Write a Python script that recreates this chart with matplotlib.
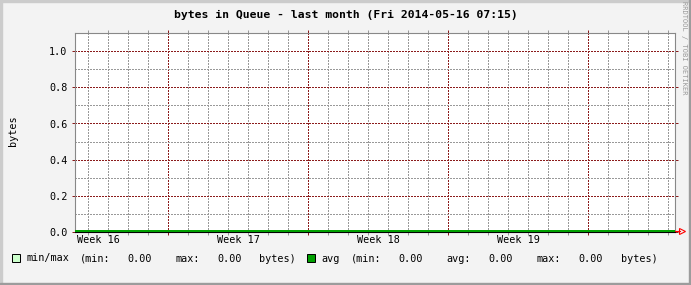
import datetime
import matplotlib
matplotlib.use("Agg")
import matplotlib.pyplot as plt
import matplotlib.dates as mdates
from matplotlib.transforms import offset_copy, blended_transform_factory
from matplotlib.patches import Rectangle
from matplotlib.lines import Line2D

# --- data ---
title = "bytes in Queue - last month (Fri 2014-05-16 07:15)"
ylabel = "bytes"
start = datetime.datetime(2014, 4, 16, 7, 15)
end = datetime.datetime(2014, 5, 16, 7, 15)
week_numbers = [16, 17, 18, 19]
yticks = [0.0, 0.2, 0.4, 0.6, 0.8, 1.0]
ytick_labels = ["0.0", "0.2", "0.4", "0.6", "0.8", "1.0"]
yminor = [0.1, 0.3, 0.5, 0.7, 0.9]
min_bytes = [0.0, 0.0, 0.0, 0.0, 0.0, 0.0, 0.0, 0.0, 0.0, 0.0, 0.0, 0.0, 0.0, 0.0, 0.0, 0.0,
             0.0, 0.0, 0.0, 0.0, 0.0, 0.0, 0.0, 0.0, 0.0, 0.0, 0.0, 0.0, 0.0, 0.0, 0.0]
max_bytes = [0.0, 0.0, 0.0, 0.0, 0.0, 0.0, 0.0, 0.0, 0.0, 0.0, 0.0, 0.0, 0.0, 0.0, 0.0, 0.0,
             0.0, 0.0, 0.0, 0.0, 0.0, 0.0, 0.0, 0.0, 0.0, 0.0, 0.0, 0.0, 0.0, 0.0, 0.0]
avg_bytes = [0.0, 0.0, 0.0, 0.0, 0.0, 0.0, 0.0, 0.0, 0.0, 0.0, 0.0, 0.0, 0.0, 0.0, 0.0, 0.0,
             0.0, 0.0, 0.0, 0.0, 0.0, 0.0, 0.0, 0.0, 0.0, 0.0, 0.0, 0.0, 0.0, 0.0, 0.0]
minmax_stats = {"min": 0.00, "max": 0.00}
avg_stats = {"min": 0.00, "avg": 0.00, "max": 0.00}

times = [start + datetime.timedelta(days=i) for i in range(len(avg_bytes))]

W, H = 691, 285
MONO = "DejaVu Sans Mono"
RED = "#8b1c1c"
GRAY = "#999999"


def fx(px):
    return px / W


def fy(py):
    return 1 - py / H


fig = plt.figure(figsize=(W / 100, H / 100), dpi=100, facecolor="#f3f3f3")

# frame border like rrdtool
fig.patches.append(Rectangle((0, 0), fx(2), 1, transform=fig.transFigure, color="#cccccc"))
fig.patches.append(Rectangle((0, fy(2)), 1, 2 / H, transform=fig.transFigure, color="#cccccc"))
fig.patches.append(Rectangle((fx(W - 2), 0), fx(2), 1, transform=fig.transFigure, color="#9c9c9c"))
fig.patches.append(Rectangle((0, 0), 1, 2 / H, transform=fig.transFigure, color="#9c9c9c"))

# 198 px tall for 1.1 units -> 18 px per 0.1, grid rows on pixel centres
ax = fig.add_axes([74.5 / W, 53.5 / H, 600 / W, 198 / H])
ax.set_facecolor("white")

ax.fill_between(times, min_bytes, max_bytes, color="#ccffcc", lw=0, zorder=2)
green_tr = offset_copy(ax.transData, fig=fig, y=1.0, units="dots")
ax.plot(times, avg_bytes, color="#00a000", lw=1.44, solid_capstyle="butt",
        transform=green_tr, clip_on=False, zorder=3)

ax.set_xlim(mdates.date2num(start), mdates.date2num(end))
ax.set_ylim(0, 1.1)

# day grid (gray) and week grid (red) at midnights
first_day = datetime.datetime(start.year, start.month, start.day) + datetime.timedelta(days=1)
midnights = []
d = first_day
while d < end:
    midnights.append(d)
    d += datetime.timedelta(days=1)
mondays = [m for m in midnights if m.weekday() == 0]
days = [m for m in midnights if m.weekday() != 0]
ax.set_xticks(mdates.date2num(mondays))
ax.set_xticks(mdates.date2num(days), minor=True)
ax.set_xticklabels([])
ax.set_yticks(yticks)
ax.set_yticklabels(ytick_labels, family=MONO, fontsize=7.3)
ax.set_yticks(yminor, minor=True)

# dotted grid
dots = (0, (2.0, 2.0))
ax.grid(which="major", color=RED, ls=dots, lw=0.5, antialiased=False, zorder=1)
ax.grid(which="minor", color=GRAY, ls=dots, lw=0.5, antialiased=False, zorder=1)
ax.set_axisbelow(True)

ax.tick_params(which="major", direction="out", length=2, width=0.72, color=RED,
               labelcolor="black", top=True, right=True, pad=3)
ax.tick_params(which="minor", direction="out", length=2, width=0.72, color=GRAY,
               top=True, right=True)
ax.tick_params(axis="y", which="minor", length=0)

for side in ["left", "top", "right"]:
    ax.spines[side].set_color("#888888")
    ax.spines[side].set_linewidth(0.8)
ax.spines["bottom"].set_color("black")
ax.spines["bottom"].set_linewidth(0.8)

# week labels centred in each week
week_tr = blended_transform_factory(ax.transData, fig.transFigure)
for n in week_numbers:
    mid = datetime.datetime.fromisocalendar(2014, n, 4) + datetime.timedelta(hours=12)
    ax.text(mdates.date2num(mid), fy(240.3), "Week %d" % n, transform=week_tr,
            family=MONO, fontsize=7.3, ha="center", va="center")

# x-axis arrow
fig.lines.append(Line2D([fx(675), fx(680)], [fy(231.3), fy(231.3)], color="red", lw=0.8,
                        transform=fig.transFigure))
fig.lines.append(Line2D([fx(681.5)], [fy(231.3)], marker=">", ms=5, mfc="none", mec="red",
                        mew=0.8, transform=fig.transFigure))

fig.text(fx(345.5), fy(14.5), title, family=MONO, fontsize=8.2, weight="bold",
         ha="center", va="center")
fig.text(fx(13), fy(131), ylabel, family=MONO, fontsize=7.3, rotation=90,
         ha="center", va="center")
fig.text(fx(684), fy(48), "RRDTOOL / TOBI OETIKER", family=MONO, fontsize=5,
         color=GRAY, rotation=270, ha="center", va="center")

# legend
ly = fy(258.5)
fig.patches.append(Rectangle((fx(12.3), fy(262.3)), 8 / W, 8 / H, transform=fig.transFigure,
                             facecolor="#ccffcc", edgecolor="black", lw=0.72))
fig.patches.append(Rectangle((fx(306.7), fy(262.3)), 8 / W, 8 / H, transform=fig.transFigure,
                             facecolor="#00a000", edgecolor="black", lw=0.72))
legend_items = [
    (26.7, "min/max"), (80, "(min:"), (127.7, "%.2f" % minmax_stats["min"]),
    (175.7, "max:"), (217.7, "%.2f" % minmax_stats["max"]), (259.3, "bytes)"),
    (321.7, "avg"), (351, "(min:"), (398.7, "%.2f" % avg_stats["min"]),
    (446.7, "avg:"), (488.7, "%.2f" % avg_stats["avg"]), (536.7, "max:"),
    (578.7, "%.2f" % avg_stats["max"]), (620.7, "bytes)"),
]
for x, s in legend_items:
    fig.text(fx(x), ly, s, family=MONO, fontsize=7.3, ha="left", va="center")

fig.savefig("out.png", dpi=100, facecolor=fig.get_facecolor())
